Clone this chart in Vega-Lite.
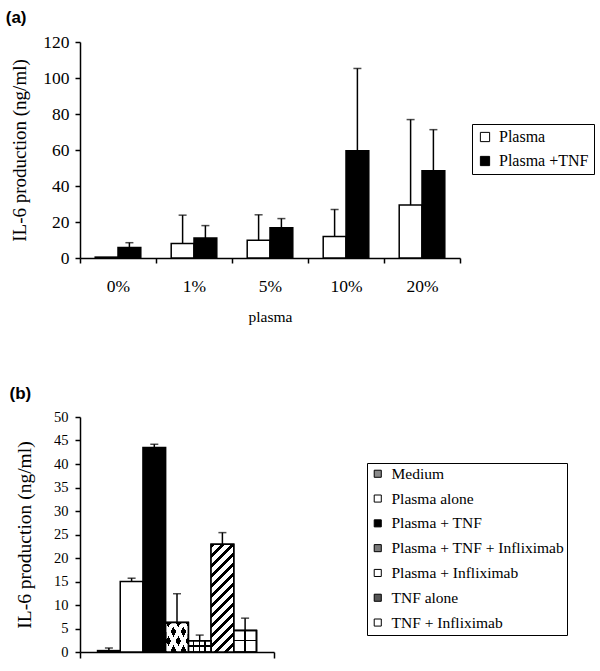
{
  "$schema": "https://vega.github.io/schema/vega-lite/v6.json",
  "background": "white",
  "padding": {"left": 5, "top": 9, "right": 5, "bottom": 5},
  "config": {
    "font": "Liberation Serif",
    "view": {"stroke": null},
    "axis": {"domainColor": "black", "tickColor": "black", "labelColor": "black", "titleColor": "black", "grid": false, "labelFont": "Liberation Serif", "titleFont": "Liberation Serif", "titleFontWeight": "normal", "domainWidth": 1.5, "tickWidth": 1.5, "tickSize": 5},
    "legend": {"labelFont": "Liberation Serif", "labelColor": "black", "labelLimit": 300},
    "title": {"font": "Liberation Sans", "fontWeight": "bold", "color": "black", "fontSize": 17, "anchor": "start", "frame": "bounds"}
  },
  "resolve": {"scale": {"x": "independent", "xOffset": "independent", "y": "independent", "fill": "independent"}, "axis": {"x": "independent", "y": "independent"}, "legend": {"fill": "independent"}},
  "spacing": 60,
  "vconcat": [
    {
      "title": {"text": "(a)", "dx": -5, "offset": 6},
      "width": 380,
      "height": 216,
      "data": {"values": [
        {"plasma": "0%", "series": "Plasma", "mean": 0.5, "upper": null},
        {"plasma": "0%", "series": "Plasma +TNF", "mean": 5.8, "upper": 8.5},
        {"plasma": "1%", "series": "Plasma", "mean": 8.0, "upper": 23.8},
        {"plasma": "1%", "series": "Plasma +TNF", "mean": 11.1, "upper": 18.0},
        {"plasma": "5%", "series": "Plasma", "mean": 9.8, "upper": 24.0},
        {"plasma": "5%", "series": "Plasma +TNF", "mean": 16.8, "upper": 21.9},
        {"plasma": "10%", "series": "Plasma", "mean": 11.9, "upper": 27.0},
        {"plasma": "10%", "series": "Plasma +TNF", "mean": 59.6, "upper": 105.3},
        {"plasma": "20%", "series": "Plasma", "mean": 29.4, "upper": 76.9},
        {"plasma": "20%", "series": "Plasma +TNF", "mean": 48.5, "upper": 71.3}
      ]},
      "encoding": {
        "x": {"field": "plasma", "type": "nominal", "sort": ["0%", "1%", "5%", "10%", "20%"], "title": "plasma",
          "scale": {"paddingInner": 0, "paddingOuter": 0},
          "axis": {"labelAngle": 0, "tickBand": "extent", "labelFont": "Liberation Serif", "labelFontSize": 17.5, "labelPadding": 14, "titleFont": "Liberation Serif", "titleFontSize": 15.5, "titlePadding": 15}},
        "xOffset": {"field": "series", "type": "nominal", "sort": ["Plasma", "Plasma +TNF"], "scale": {"domain": ["Plasma", "Plasma +TNF"], "paddingInner": 0, "paddingOuter": 0.667}},
        "y": {"field": "mean", "type": "quantitative", "title": "IL-6 production (ng/ml)", "scale": {"domain": [0, 120]},
          "axis": {"values": [0, 20, 40, 60, 80, 100, 120], "labelFont": "Liberation Serif", "labelFontSize": 17.5, "labelPadding": 6, "titleFont": "Liberation Serif", "titleFontSize": 19, "titlePadding": 13}}
      },
      "layer": [
        {
          "mark": {"type": "bar", "stroke": "black", "strokeWidth": 1.5},
          "encoding": {
            "fill": {"field": "series", "type": "nominal", "scale": {"domain": ["Plasma", "Plasma +TNF"], "range": ["white", "black"]},
              "legend": {"title": null, "orient": "none", "legendX": 392, "legendY": 82, "strokeColor": "black", "fillColor": "white", "padding": 5, "symbolType": "square", "symbolSize": 85, "symbolStrokeColor": "black", "symbolStrokeWidth": 1, "labelFont": "Liberation Serif", "labelFontSize": 16, "labelOffset": 6, "rowPadding": 8}}
          }
        },
        {
          "transform": [{"filter": "datum.upper != null"}],
          "mark": {"type": "rule", "color": "black", "strokeWidth": 1.5},
          "encoding": {"y2": {"field": "upper"}}
        },
        {
          "transform": [{"filter": "datum.upper != null"}],
          "mark": {"type": "tick", "color": "black", "thickness": 1.5, "size": 8},
          "encoding": {"y": {"field": "upper", "type": "quantitative", "title": "IL-6 production (ng/ml)"}}
        }
      ]
    },
    {
      "title": {"text": "(b)", "dx": -5, "offset": 6},
      "width": 194,
      "height": 235,
      "data": {"values": [
        {"group": "all", "condition": "Medium", "mean": 0.3, "upper": 0.85},
        {"group": "all", "condition": "Plasma alone", "mean": 15.0, "upper": 15.7},
        {"group": "all", "condition": "Plasma + TNF", "mean": 43.5, "upper": 44.2},
        {"group": "all", "condition": "Plasma + TNF + Infliximab", "mean": 6.3, "upper": 12.4},
        {"group": "all", "condition": "Plasma + Infliximab", "mean": 2.4, "upper": 3.6},
        {"group": "all", "condition": "TNF alone", "mean": 22.9, "upper": 25.4},
        {"group": "all", "condition": "TNF + Infliximab", "mean": 4.6, "upper": 7.2}
      ]},
      "encoding": {
        "x": {"field": "group", "type": "nominal", "title": null, "scale": {"paddingInner": 0, "paddingOuter": 0},
          "axis": {"labels": false, "tickBand": "extent", "tickSize": 6}},
        "xOffset": {"field": "condition", "type": "nominal",
          "sort": ["Medium", "Plasma alone", "Plasma + TNF", "Plasma + TNF + Infliximab", "Plasma + Infliximab", "TNF alone", "TNF + Infliximab"],
          "scale": {"domain": ["Medium", "Plasma alone", "Plasma + TNF", "Plasma + TNF + Infliximab", "Plasma + Infliximab", "TNF alone", "TNF + Infliximab"], "paddingInner": 0, "paddingOuter": 0.773}},
        "y": {"field": "mean", "type": "quantitative", "title": "IL-6 production (ng/ml)", "scale": {"domain": [0, 50]},
          "axis": {"values": [0, 5, 10, 15, 20, 25, 30, 35, 40, 45, 50], "labelFont": "Liberation Serif", "labelFontSize": 14.5, "labelPadding": 7, "titleFont": "Liberation Serif", "titleFontSize": 19.5, "titlePadding": 19}}
      },
      "layer": [
        {
          "mark": {"type": "bar", "stroke": "black", "strokeWidth": 1.5},
          "encoding": {
            "fill": {"field": "condition", "type": "nominal",
              "scale": {"domain": ["Medium", "Plasma alone", "Plasma + TNF", "Plasma + TNF + Infliximab", "Plasma + Infliximab", "TNF alone", "TNF + Infliximab"],
                "range": ["#8a8a8a", "white", "black", "#7a7a7a", "white", "#555555", "white"]},
              "legend": {"title": null, "orient": "none", "legendX": 287, "legendY": 46, "strokeColor": "black", "fillColor": "white", "padding": 3, "symbolType": "square", "symbolSize": 50, "symbolStrokeColor": "black", "symbolStrokeWidth": 1, "labelFont": "Liberation Serif", "labelFontSize": 15.5, "labelLimit": 300, "labelOffset": 6, "rowPadding": 7.8}}
          }
        },
        {
          "transform": [{"filter": "datum.condition === 'TNF alone'"}],
          "mark": {"type": "bar", "stroke": "black", "strokeWidth": 1.5,
            "fill": {"gradient": "linear", "x1": 0, "y1": 0, "x2": 0.2446, "y2": 1.1594, "stops": [
              {"offset": 0, "color": "black"}, {"offset": 0.0345, "color": "black"}, {"offset": 0.0345, "color": "white"}, {"offset": 0.0768, "color": "white"},
              {"offset": 0.0768, "color": "black"}, {"offset": 0.1113, "color": "black"}, {"offset": 0.1113, "color": "white"}, {"offset": 0.1535, "color": "white"},
              {"offset": 0.1535, "color": "black"}, {"offset": 0.188, "color": "black"}, {"offset": 0.188, "color": "white"}, {"offset": 0.2303, "color": "white"},
              {"offset": 0.2303, "color": "black"}, {"offset": 0.2648, "color": "black"}, {"offset": 0.2648, "color": "white"}, {"offset": 0.307, "color": "white"},
              {"offset": 0.307, "color": "black"}, {"offset": 0.3415, "color": "black"}, {"offset": 0.3415, "color": "white"}, {"offset": 0.3838, "color": "white"},
              {"offset": 0.3838, "color": "black"}, {"offset": 0.4183, "color": "black"}, {"offset": 0.4183, "color": "white"}, {"offset": 0.4605, "color": "white"},
              {"offset": 0.4605, "color": "black"}, {"offset": 0.495, "color": "black"}, {"offset": 0.495, "color": "white"}, {"offset": 0.5373, "color": "white"},
              {"offset": 0.5373, "color": "black"}, {"offset": 0.5718, "color": "black"}, {"offset": 0.5718, "color": "white"}, {"offset": 0.614, "color": "white"},
              {"offset": 0.614, "color": "black"}, {"offset": 0.6485, "color": "black"}, {"offset": 0.6485, "color": "white"}, {"offset": 0.6908, "color": "white"},
              {"offset": 0.6908, "color": "black"}, {"offset": 0.7253, "color": "black"}, {"offset": 0.7253, "color": "white"}, {"offset": 0.7675, "color": "white"},
              {"offset": 0.7675, "color": "black"}, {"offset": 0.802, "color": "black"}, {"offset": 0.802, "color": "white"}, {"offset": 0.8443, "color": "white"},
              {"offset": 0.8443, "color": "black"}, {"offset": 0.8788, "color": "black"}, {"offset": 0.8788, "color": "white"}, {"offset": 0.921, "color": "white"},
              {"offset": 0.921, "color": "black"}, {"offset": 0.9555, "color": "black"}, {"offset": 0.9555, "color": "white"}, {"offset": 0.9978, "color": "white"},
              {"offset": 0.9978, "color": "black"}, {"offset": 1, "color": "black"}
            ]}},
          "encoding": {}
        },
        {
          "transform": [{"filter": "datum.condition === 'Plasma + Infliximab'"}],
          "mark": {"type": "bar", "stroke": "black", "strokeWidth": 1.5,
            "fill": {"gradient": "linear", "x1": 0, "y1": 0, "x2": 1, "y2": 0, "stops": [
              {"offset": 0, "color": "white"}, {"offset": 0.21, "color": "white"}, {"offset": 0.21, "color": "black"}, {"offset": 0.27, "color": "black"}, {"offset": 0.27, "color": "white"},
              {"offset": 0.46, "color": "white"}, {"offset": 0.46, "color": "black"}, {"offset": 0.52, "color": "black"}, {"offset": 0.52, "color": "white"},
              {"offset": 0.71, "color": "white"}, {"offset": 0.71, "color": "black"}, {"offset": 0.77, "color": "black"}, {"offset": 0.77, "color": "white"}, {"offset": 1, "color": "white"}
            ]}},
          "encoding": {}
        },
        {
          "transform": [{"filter": "datum.condition === 'Plasma + Infliximab'"}],
          "mark": {"type": "bar", "stroke": "black", "strokeWidth": 1.5,
            "fill": {"gradient": "linear", "x1": 0, "y1": 0, "x2": 0, "y2": 1, "stops": [
              {"offset": 0, "color": "rgba(255,255,255,0)"}, {"offset": 0.42, "color": "rgba(255,255,255,0)"}, {"offset": 0.42, "color": "black"},
              {"offset": 0.54, "color": "black"}, {"offset": 0.54, "color": "rgba(255,255,255,0)"}, {"offset": 1, "color": "rgba(255,255,255,0)"}
            ]}},
          "encoding": {}
        },
        {
          "transform": [{"filter": "datum.condition === 'TNF + Infliximab'"}],
          "mark": {"type": "bar", "stroke": "black", "strokeWidth": 1.5,
            "fill": {"gradient": "linear", "x1": 0, "y1": 0, "x2": 1, "y2": 0, "stops": [
              {"offset": 0, "color": "white"}, {"offset": 0.47, "color": "white"}, {"offset": 0.47, "color": "black"},
              {"offset": 0.535, "color": "black"}, {"offset": 0.535, "color": "white"}, {"offset": 1, "color": "white"}
            ]}},
          "encoding": {}
        },
        {
          "transform": [{"filter": "datum.condition === 'TNF + Infliximab'"}],
          "mark": {"type": "bar", "stroke": "black", "strokeWidth": 1.5,
            "fill": {"gradient": "linear", "x1": 0, "y1": 0, "x2": 0, "y2": 1, "stops": [
              {"offset": 0, "color": "rgba(255,255,255,0)"}, {"offset": 0.425, "color": "rgba(255,255,255,0)"}, {"offset": 0.425, "color": "black"},
              {"offset": 0.495, "color": "black"}, {"offset": 0.495, "color": "rgba(255,255,255,0)"}, {"offset": 1, "color": "rgba(255,255,255,0)"}
            ]}},
          "encoding": {}
        },
        {
          "transform": [{"filter": "datum.condition === 'Plasma + TNF + Infliximab'"}],
          "mark": {"type": "bar", "stroke": "black", "strokeWidth": 1.5,
            "fill": {"gradient": "linear", "x1": 0, "y1": 0, "x2": 1.141, "y2": 0.799, "stops": [
              {"offset": 0, "color": "black"}, {"offset": 0.1425, "color": "black"}, {"offset": 0.1425, "color": "white"}, {"offset": 0.2591, "color": "white"},
              {"offset": 0.2591, "color": "black"}, {"offset": 0.4016, "color": "black"}, {"offset": 0.4016, "color": "white"}, {"offset": 0.5181, "color": "white"},
              {"offset": 0.5181, "color": "black"}, {"offset": 0.6606, "color": "black"}, {"offset": 0.6606, "color": "white"}, {"offset": 0.7772, "color": "white"},
              {"offset": 0.7772, "color": "black"}, {"offset": 0.9197, "color": "black"}, {"offset": 0.9197, "color": "white"}, {"offset": 1, "color": "white"}
            ]}},
          "encoding": {}
        },
        {
          "transform": [{"filter": "datum.condition === 'Plasma + TNF + Infliximab'"}],
          "mark": {"type": "bar", "stroke": "black", "strokeWidth": 1.5,
            "fill": {"gradient": "linear", "x1": 0, "y1": 1, "x2": 1.141, "y2": 0.201, "stops": [
              {"offset": 0, "color": "rgba(255,255,255,0)"}, {"offset": 0.0363, "color": "rgba(255,255,255,0)"}, {"offset": 0.0363, "color": "white"}, {"offset": 0.1528, "color": "white"},
              {"offset": 0.1528, "color": "rgba(255,255,255,0)"}, {"offset": 0.2953, "color": "rgba(255,255,255,0)"}, {"offset": 0.2953, "color": "white"}, {"offset": 0.4119, "color": "white"},
              {"offset": 0.4119, "color": "rgba(255,255,255,0)"}, {"offset": 0.5544, "color": "rgba(255,255,255,0)"}, {"offset": 0.5544, "color": "white"}, {"offset": 0.671, "color": "white"},
              {"offset": 0.671, "color": "rgba(255,255,255,0)"}, {"offset": 0.8135, "color": "rgba(255,255,255,0)"}, {"offset": 0.8135, "color": "white"}, {"offset": 0.9301, "color": "white"},
              {"offset": 0.9301, "color": "rgba(255,255,255,0)"}, {"offset": 1, "color": "rgba(255,255,255,0)"}
            ]}},
          "encoding": {}
        },
        {
          "mark": {"type": "rule", "color": "black", "strokeWidth": 1.5},
          "encoding": {"y2": {"field": "upper"}}
        },
        {
          "mark": {"type": "tick", "color": "black", "thickness": 1.5, "size": 8},
          "encoding": {"y": {"field": "upper", "type": "quantitative", "title": "IL-6 production (ng/ml)"}}
        }
      ]
    }
  ]
}
